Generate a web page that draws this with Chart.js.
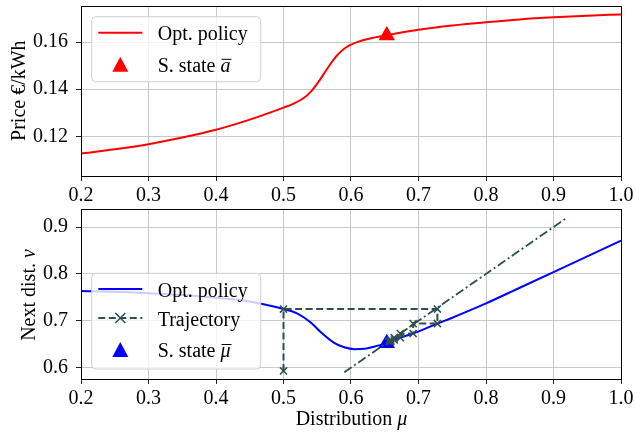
<!DOCTYPE html>
<html>
<head>
<meta charset="utf-8">
<script src="https://cdn.jsdelivr.net/npm/chart.js@4.4.1/dist/chart.umd.min.js"></script>
<style>
html, body { margin: 0; padding: 0; background: #fff; }
#wrap { position: relative; width: 635px; height: 436px; }
canvas { position: absolute; left: 0; }
</style>
</head>
<body>
<div id="wrap">
  <canvas id="priceChart" width="635" height="204" style="top:0"></canvas>
  <canvas id="distChart" width="635" height="232" style="top:204px"></canvas>
</div>
<script>
// shared x axis
const xTicks = [0.2, 0.3, 0.4, 0.5, 0.6, 0.7, 0.8, 0.9, 1.0];

// top panel: optimal price policy
const muPrice = [0.2, 0.25, 0.3, 0.35, 0.4, 0.45, 0.5, 0.515, 0.53, 0.54, 0.55, 0.56, 0.57, 0.58, 0.59, 0.6, 0.61, 0.625, 0.65, 0.7, 0.75, 0.8, 0.85, 0.9, 0.95, 1.0];
const priceOpt = [0.1127, 0.1145, 0.1167, 0.1195, 0.1228, 0.1271, 0.1322, 0.1339, 0.1363, 0.1388, 0.1424, 0.1466, 0.1509, 0.1546, 0.1572, 0.1589, 0.1601, 0.1613, 0.1628, 0.1652, 0.167, 0.1684, 0.1696, 0.1705, 0.1712, 0.1717];
const priceState = [0.653, 0.1628];
const priceTicks = [0.12, 0.14, 0.16];

// bottom panel: next distribution
const muDist = [0.2, 0.25, 0.3, 0.35, 0.4, 0.45, 0.5, 0.52, 0.54, 0.555, 0.575, 0.59, 0.605, 0.62, 0.64, 0.653, 0.673, 0.692, 0.728, 0.75, 0.8, 0.85, 0.9, 0.95, 1.0];
const nuOpt = [0.7635, 0.762, 0.759, 0.755, 0.749, 0.741, 0.725, 0.716, 0.697, 0.676, 0.653, 0.6435, 0.6395, 0.6405, 0.647, 0.652, 0.664, 0.673, 0.694, 0.7065, 0.737, 0.7705, 0.804, 0.8375, 0.871];
const trajMu = [0.5, 0.5, 0.728, 0.728, 0.692, 0.692, 0.673, 0.673, 0.664, 0.664, 0.659, 0.659, 0.656];
const trajNu = [0.593, 0.725, 0.725, 0.694, 0.694, 0.673, 0.673, 0.664, 0.664, 0.659, 0.659, 0.656, 0.656];
const diagEnds = [0.59, 0.92];
const distState = [0.653, 0.652];
const distTicks = [0.6, 0.7, 0.8, 0.9];

const SERIF = '"Liberation Serif", "Times New Roman", serif';
const GRID = '#c8c8c8';
const SLATE = '#2f4f4f';

Chart.defaults.font.family = SERIF;
Chart.defaults.font.size = 20;
Chart.defaults.color = '#000';
Chart.defaults.animation = false;

function pts(xs, ys) {
    return xs.map((x, i) => ({ x: x, y: ys[i] }));
}

function fixedTicks(arr) {
    return s => { s.ticks = arr.map(v => ({ value: v })); };
}

function xScale(h) {
    return {
        type: 'linear', min: 0.2, max: 1.0,
        afterBuildTicks: fixedTicks(xTicks),
        afterFit: s => { s.height = h; s.paddingLeft = 0; s.paddingRight = 0; },
        grid: { color: GRID, lineWidth: 1, tickLength: 5, tickColor: '#222' },
        border: { color: '#000', width: 1 },
        ticks: { padding: 3, maxRotation: 0, autoSkip: false, callback: v => v.toFixed(1) }
    };
}

function yScale(min, max, arr, dec) {
    return {
        type: 'linear', min: min, max: max,
        afterBuildTicks: fixedTicks(arr),
        afterFit: s => { s.width = 81; s.paddingTop = 0; s.paddingBottom = 0; },
        grid: { color: GRID, lineWidth: 1, tickLength: 5, tickColor: '#222' },
        border: { color: '#000', width: 1 },
        ticks: { padding: 8, autoSkip: false, callback: v => v.toFixed(dec) }
    };
}

// text with mixed upright / italic parts and optional overline
function richWidth(ctx, parts) {
    let w = 0;
    parts.forEach(p => {
        ctx.font = (p.italic ? 'italic ' : '') + '20px ' + SERIF;
        w += ctx.measureText(p.t).width;
    });
    return w;
}

function drawRich(ctx, parts, x, y) {
    ctx.fillStyle = '#000';
    ctx.textBaseline = 'alphabetic';
    ctx.textAlign = 'left';
    parts.forEach(p => {
        ctx.font = (p.italic ? 'italic ' : '') + '20px ' + SERIF;
        const w = ctx.measureText(p.t).width;
        ctx.fillText(p.t, x, y);
        if (p.over) {
            ctx.save();
            ctx.strokeStyle = '#000';
            ctx.lineWidth = 1;
            ctx.setLineDash([]);
            ctx.beginPath();
            ctx.moveTo(x + 1, y - 12.5);
            ctx.lineTo(x + w + 1, y - 12.5);
            ctx.stroke();
            ctx.restore();
        }
        x += w;
    });
}

function triangle(ctx, x, y, color) {
    ctx.fillStyle = color;
    ctx.beginPath();
    ctx.moveTo(x, y - 7.5);
    ctx.lineTo(x + 8, y + 7.5);
    ctx.lineTo(x - 8, y + 7.5);
    ctx.closePath();
    ctx.fill();
}

function drawLegend(ctx, box, rows) {
    ctx.save();
    ctx.beginPath();
    ctx.roundRect(box.x, box.y, box.w, box.h, 4);
    ctx.fillStyle = 'rgba(255,255,255,0.8)';
    ctx.fill();
    ctx.strokeStyle = '#d0d0d0';
    ctx.lineWidth = 1;
    ctx.stroke();
    rows.forEach(r => {
        const cx = 120.3;
        if (r.line) {
            ctx.strokeStyle = r.color;
            ctx.lineWidth = 2;
            ctx.setLineDash(r.dash || []);
            ctx.beginPath();
            ctx.moveTo(98.3, r.y);
            ctx.lineTo(142.3, r.y);
            ctx.stroke();
            ctx.setLineDash([]);
        }
        if (r.marker === 'cross') {
            ctx.strokeStyle = r.color;
            ctx.lineWidth = 1.5;
            ctx.beginPath();
            ctx.moveTo(cx - 5, r.y - 5); ctx.lineTo(cx + 5, r.y + 5);
            ctx.moveTo(cx - 5, r.y + 5); ctx.lineTo(cx + 5, r.y - 5);
            ctx.stroke();
        }
        if (r.marker === 'tri') triangle(ctx, cx, r.y, r.color);
        drawRich(ctx, r.label, 157.7, r.y + 7.5);
    });
    ctx.restore();
}

function drawYTitle(ctx, parts, baseX, cy) {
    ctx.save();
    ctx.translate(baseX, cy);
    ctx.rotate(-Math.PI / 2);
    drawRich(ctx, parts, -richWidth(ctx, parts) / 2, 0);
    ctx.restore();
}

function framePlugin(id, extra) {
    return {
        id: id,
        afterDraw(chart) {
            const ctx = chart.ctx, a = chart.chartArea;
            ctx.save();
            ctx.strokeStyle = '#000';
            ctx.lineWidth = 1;
            ctx.strokeRect(a.left + 0.5, a.top + 0.5, a.right - a.left, a.bottom - a.top);
            ctx.restore();
            extra(ctx, chart);
        }
    };
}

new Chart(document.getElementById('priceChart'), {
    type: 'scatter',
    data: {
        datasets: [
            {
                label: 'S. state', data: [{ x: priceState[0], y: priceState[1] }],
                pointStyle: 'triangle', pointRadius: 9.5, backgroundColor: '#ff0000', borderWidth: 0, order: 1
            },
            {
                label: 'Opt. policy', data: pts(muPrice, priceOpt), showLine: true,
                borderColor: '#ff0000', borderWidth: 2, pointRadius: 0, cubicInterpolationMode: 'monotone', order: 2
            }
        ]
    },
    options: {
        responsive: false,
        events: [],
        layout: { autoPadding: false, padding: { left: 0, right: 14, top: 6, bottom: 0 } },
        plugins: { legend: { display: false }, tooltip: { enabled: false } },
        scales: {
            x: xScale(28),
            y: yScale(0.1032, 0.1753, priceTicks, 2)
        }
    },
    plugins: [framePlugin('priceFrame', ctx => {
        drawLegend(ctx, { x: 91.7, y: 16.7, w: 169, h: 65 }, [
            { line: true, color: '#ff0000', y: 32.7, label: [{ t: 'Opt. policy' }] },
            { marker: 'tri', color: '#ff0000', y: 64.3, label: [{ t: 'S. state ' }, { t: 'a', italic: true, over: true }] }
        ]);
        drawYTitle(ctx, [{ t: 'Price €/kWh' }], 25, 90.7);
    })]
});

new Chart(document.getElementById('distChart'), {
    type: 'scatter',
    data: {
        datasets: [
            {
                label: 'Identity', data: pts(diagEnds, diagEnds), showLine: true,
                borderColor: SLATE, borderWidth: 1.8, borderDash: [9, 3, 2, 3], pointRadius: 0, order: 1
            },
            {
                label: 'Trajectory', data: pts(trajMu, trajNu), showLine: true,
                borderColor: SLATE, borderWidth: 2, borderDash: [7, 3.5],
                pointStyle: 'crossRot', pointRadius: 5, pointBorderWidth: 1.5, pointBorderColor: SLATE, order: 2
            },
            {
                label: 'S. state', data: [{ x: distState[0], y: distState[1] }],
                pointStyle: 'triangle', pointRadius: 9.5, backgroundColor: '#0000ff', borderWidth: 0, order: 3
            },
            {
                label: 'Opt. policy', data: pts(muDist, nuOpt), showLine: true,
                borderColor: '#0000ff', borderWidth: 2, pointRadius: 0, cubicInterpolationMode: 'monotone', order: 4
            }
        ]
    },
    options: {
        responsive: false,
        events: [],
        layout: { autoPadding: false, padding: { left: 0, right: 14, top: 5, bottom: 0 } },
        plugins: { legend: { display: false }, tooltip: { enabled: false } },
        scales: {
            x: xScale(57),
            y: yScale(0.5758, 0.9385, distTicks, 1)
        }
    },
    plugins: [framePlugin('distFrame', ctx => {
        drawLegend(ctx, { x: 91.7, y: 69.3, w: 169, h: 95.7 }, [
            { line: true, color: '#0000ff', y: 85, label: [{ t: 'Opt. policy' }] },
            { line: true, color: SLATE, dash: [7, 3.5], marker: 'cross', y: 114, label: [{ t: 'Trajectory' }] },
            { marker: 'tri', color: '#0000ff', y: 145.5, label: [{ t: 'S. state ' }, { t: 'μ', italic: true, over: true }] }
        ]);
        drawYTitle(ctx, [{ t: 'Next dist. ' }, { t: 'ν', italic: true }], 35, 91);
        const parts = [{ t: 'Distribution ' }, { t: 'μ', italic: true }];
        drawRich(ctx, parts, 351.5 - richWidth(ctx, parts) / 2, 221);
    })]
});
</script>
</body>
</html>
